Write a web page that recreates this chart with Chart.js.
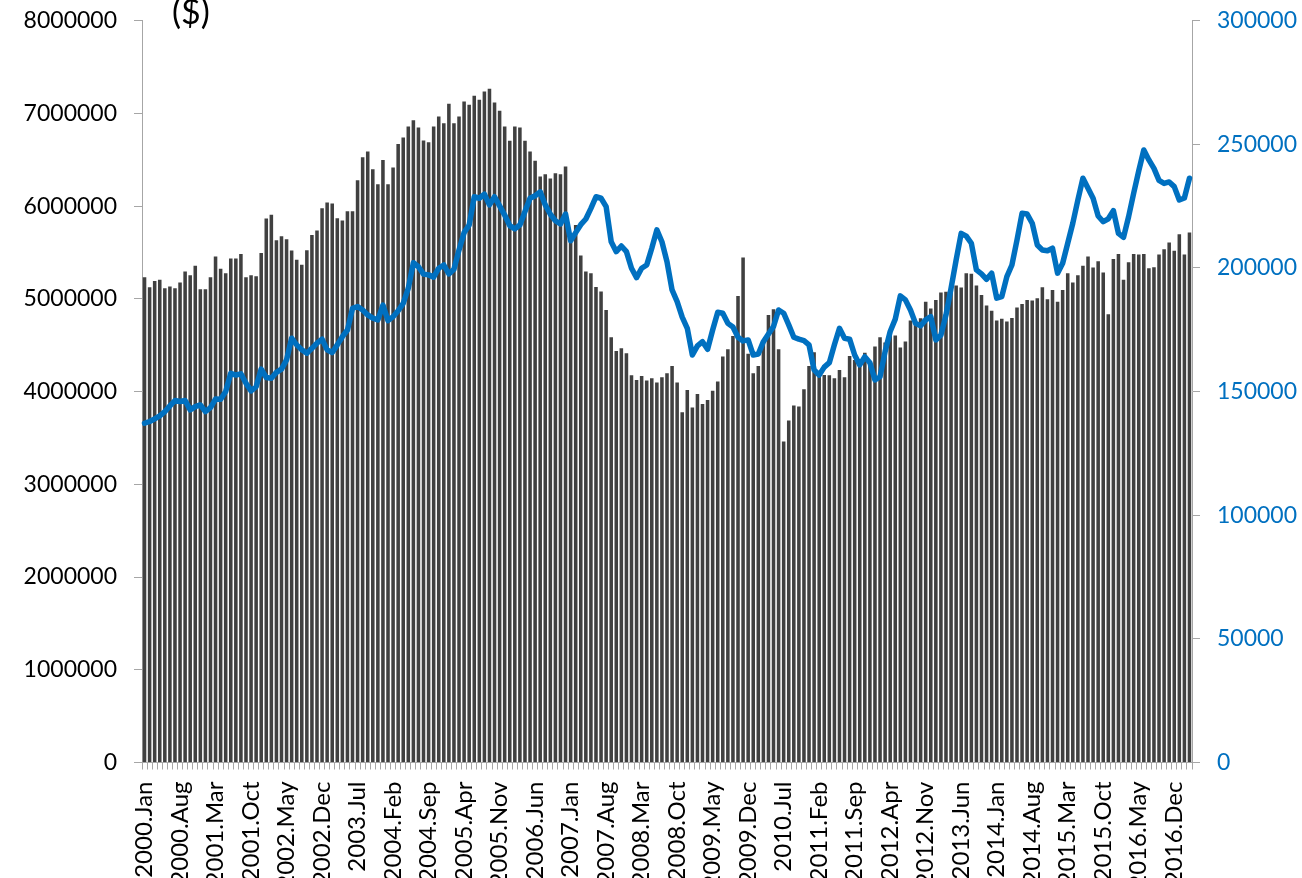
<!DOCTYPE html>
<html>
<head>
<meta charset="utf-8">
<script src="https://cdn.jsdelivr.net/npm/chart.js@4.4.1/dist/chart.umd.min.js"></script>
<style>
  html, body { margin: 0; padding: 0; background: #fff; overflow: hidden; }
  #wrap { width: 1302px; height: 878px; position: relative; }
</style>
</head>
<body>
<div id="wrap"><canvas id="chart"></canvas></div>
<script>
// monthly categories, 2000.Jan .. 2017.Mar
const monthNames = ['Jan', 'Feb', 'Mar', 'Apr', 'May', 'Jun', 'Jul', 'Aug', 'Sep', 'Oct', 'Nov', 'Dec'];
const firstYear = 2000;
const labelEvery = 7;

// bars, left axis ($)
const barValues = [
  5234000, 5126000, 5194000, 5205000, 5115000, 5133000, 5115000, 5176000, 5295000, 5255000,
  5356000, 5104000, 5104000, 5234000, 5457000, 5324000, 5277000, 5435000, 5435000, 5485000,
  5234000, 5255000, 5245000, 5496000, 5866000, 5906000, 5633000, 5676000, 5644000, 5521000,
  5421000, 5367000, 5525000, 5690000, 5737000, 5978000, 6039000, 6028000, 5870000, 5845000,
  5946000, 5946000, 6280000, 6528000, 6589000, 6399000, 6237000, 6499000, 6237000, 6417000,
  6669000, 6740000, 6859000, 6927000, 6848000, 6708000, 6690000, 6859000, 6967000, 6895000,
  7104000, 6895000, 6967000, 7129000, 7093000, 7190000, 7147000, 7236000, 7265000, 7118000,
  7028000, 6859000, 6704000, 6859000, 6848000, 6704000, 6589000, 6489000, 6319000, 6345000,
  6298000, 6356000, 6345000, 6427000, 5640000, 5798000, 5467000, 5295000, 5277000, 5129000,
  5079000, 4881000, 4587000, 4439000, 4468000, 4414000, 4177000, 4126000, 4169000, 4119000,
  4144000, 4097000, 4155000, 4198000, 4277000, 4097000, 3778000, 4018000, 3828000, 3975000,
  3867000, 3910000, 4008000, 4108000, 4378000, 4457000, 4600000, 5030000, 5446000, 4407000,
  4198000, 4277000, 4550000, 4827000, 4889000, 4457000, 3461000, 3687000, 3849000, 3838000,
  4026000, 4277000, 4425000, 4200000, 4180000, 4177000, 4145000, 4234000, 4155000, 4385000,
  4342000, 4300000, 4420000, 4300000, 4486000, 4587000, 4529000, 4600000, 4604000, 4475000,
  4539000, 4766000, 4727000, 4792000, 4968000, 4896000, 4989000, 5068000, 5076000, 5140000,
  5144000, 5122000, 5277000, 5270000, 5144000, 5043000, 4928000, 4871000, 4766000, 4787000,
  4755000, 4795000, 4906000, 4946000, 4989000, 4982000, 5007000, 5126000, 4996000, 5097000,
  4968000, 5097000, 5277000, 5176000, 5255000, 5356000, 5457000, 5338000, 5406000, 5284000,
  4835000, 5431000, 5485000, 5205000, 5396000, 5485000, 5478000, 5485000, 5331000, 5342000,
  5478000, 5536000, 5607000, 5518000, 5698000, 5478000, 5715000
];

// line, right axis
const lineValues = [
  137200, 137900, 139000, 140200, 141900, 144200, 146400, 146000, 146400, 142600,
  143900, 144600, 141900, 143500, 147000, 146900, 150000, 157400, 156700, 157200,
  153400, 150300, 152000, 159100, 155700, 155400, 157800, 159100, 162800, 171600,
  168900, 166900, 165500, 167500, 169600, 171200, 166900, 165800, 168900, 172200,
  174900, 183700, 184400, 183000, 181000, 179700, 179000, 185000, 178700, 180300,
  182700, 185700, 191800, 202100, 200500, 197500, 197200, 196300, 199900, 201200,
  197600, 199500, 207300, 214300, 217400, 228800, 228200, 229800, 225500, 228800,
  225100, 221400, 217100, 215800, 217400, 222800, 228200, 229200, 230800, 225500,
  221700, 219100, 217800, 221800, 211000, 214300, 217500, 219800, 224100, 228800,
  228200, 224800, 210600, 206600, 208900, 206600, 199900, 196100, 199900, 201200,
  208000, 215400, 210600, 202500, 191100, 186400, 180100, 175600, 164800, 168500,
  170200, 167100, 174900, 182100, 181700, 177600, 176100, 172000, 170500, 170900,
  164800, 165200, 170200, 173300, 176300, 183000, 181700, 177000, 172000, 171200,
  170600, 168900, 158800, 156700, 159900, 161700, 168900, 175600, 171600, 171200,
  164800, 160800, 164100, 161700, 154700, 156000, 166200, 174300, 179300, 188700,
  187100, 183000, 177600, 176600, 179000, 180300, 170900, 172900, 181000, 191800,
  203200, 214000, 212900, 210000, 199200, 197600, 195400, 197900, 187800, 188400,
  196500, 201200, 211300, 222100, 221800, 218100, 209300, 207300, 207000, 208000,
  197900, 201900, 210000, 218100, 227500, 236300, 232200, 228200, 221000, 218700,
  219900, 223200, 214000, 212400, 220700, 230200, 239300, 247700, 243700, 240300,
  235400, 234200, 234800, 232900, 227500, 228300, 236300
];

// axis ranges: [min, max, step]
const leftAxis = [0, 8000000, 1000000];
const rightAxis = [0, 300000, 50000];

const categories = [];
for (let i = 0; i < barValues.length; i++) {
  categories.push((firstYear + Math.floor(i / 12)) + '.' + monthNames[i % 12]);
}

const BLUE = '#0070C0';
const AXIS = '#a6a6a6';

Chart.defaults.font.family = 'Lato, "Open Sans", sans-serif';
Chart.defaults.font.size = 23;
Chart.defaults.color = '#000';

// the "($)" unit text above the left axis
const unitLabel = {
  id: 'unitLabel',
  afterDraw(chart) {
    const c = chart.ctx;
    c.save();
    c.font = '34px Lato, "Open Sans", sans-serif';
    c.fillStyle = '#000';
    c.textBaseline = 'alphabetic';
    c.textAlign = 'left';
    c.fillText('($)', 172, 24);
    c.restore();
  }
};

// keep the plot top where the reference has it (tick padding would push it down)
function fitSide(width) {
  return s => {
    s.width = width;
    s.paddingTop = 20.7;
    s.paddingBottom = 0;
  };
}

const ctx = document.getElementById('chart').getContext('2d');
new Chart(ctx, {
  data: {
    labels: categories,
    datasets: [
      {
        type: 'line',
        data: lineValues,
        yAxisID: 'y1',
        borderColor: BLUE,
        borderWidth: 5.5,
        pointRadius: 0,
        tension: 0,
        borderJoinStyle: 'round',
        borderCapStyle: 'round',
        order: 0
      },
      {
        type: 'bar',
        data: barValues,
        yAxisID: 'y',
        backgroundColor: '#404040',
        barPercentage: 0.7,
        categoryPercentage: 1,
        order: 1
      }
    ]
  },
  options: {
    responsive: true,
    maintainAspectRatio: false,
    animation: false,
    layout: { padding: 0 },
    plugins: {
      legend: { display: false },
      tooltip: { enabled: false }
    },
    scales: {
      x: {
        offset: true,
        grid: { offset: true, drawOnChartArea: false, drawTicks: true, tickLength: 7, color: AXIS },
        border: { color: AXIS },
        ticks: {
          autoSkip: false,
          maxRotation: 90,
          minRotation: 90,
          padding: 12,
          font: { size: 24 },
          callback: (v, i) => (i % labelEvery === 0 ? categories[i] : '')
        },
        afterFit: s => { s.height = 115.5; }
      },
      y: {
        position: 'left',
        min: leftAxis[0],
        max: leftAxis[1],
        ticks: { stepSize: leftAxis[2], padding: 17, callback: v => String(v) },
        grid: { drawOnChartArea: false, tickLength: 8, color: AXIS },
        border: { color: AXIS },
        afterFit: fitSide(142)
      },
      y1: {
        position: 'right',
        min: rightAxis[0],
        max: rightAxis[1],
        ticks: { stepSize: rightAxis[2], padding: 17, color: BLUE, callback: v => String(v) },
        grid: { drawOnChartArea: false, tickLength: 8, color: AXIS },
        border: { color: AXIS },
        afterFit: fitSide(110)
      }
    }
  },
  plugins: [unitLabel]
});
</script>
</body>
</html>
